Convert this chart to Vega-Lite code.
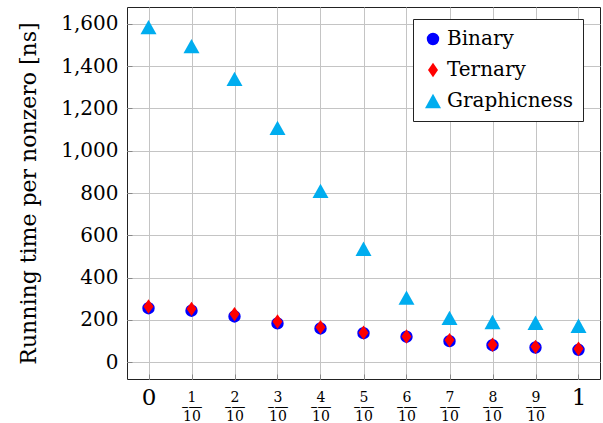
{
  "$schema": "https://vega.github.io/schema/vega-lite/v6.json",
  "width": 473,
  "height": 372,
  "autosize": {"type": "none"},
  "padding": {"left": 127, "top": 7, "right": 3, "bottom": 44},
  "background": "white",
  "config": {
    "font": "DejaVu Serif",
    "view": {"stroke": "#222", "strokeWidth": 1},
    "axis": {"domain": false, "gridColor": "#c4c4c4", "gridWidth": 1, "labelColor": "black", "titleColor": "black", "tickColor": "#888", "labelFont": "DejaVu Serif", "titleFont": "DejaVu Serif", "titleFontWeight": "normal"},
    "legend": {"labelFont": "DejaVu Serif", "labelFontSize": 20, "labelColor": "black"}
  },
  "data": {
    "values": [
      {"x": 0, "y": 255, "series": "Binary"},
      {"x": 0.1, "y": 243, "series": "Binary"},
      {"x": 0.2, "y": 216, "series": "Binary"},
      {"x": 0.3, "y": 183, "series": "Binary"},
      {"x": 0.4, "y": 159, "series": "Binary"},
      {"x": 0.5, "y": 137, "series": "Binary"},
      {"x": 0.6, "y": 120, "series": "Binary"},
      {"x": 0.7, "y": 99, "series": "Binary"},
      {"x": 0.8, "y": 80, "series": "Binary"},
      {"x": 0.9, "y": 69, "series": "Binary"},
      {"x": 1, "y": 58, "series": "Binary"},
      {"x": 0, "y": 263, "series": "Ternary"},
      {"x": 0.1, "y": 252, "series": "Ternary"},
      {"x": 0.2, "y": 227, "series": "Ternary"},
      {"x": 0.3, "y": 192, "series": "Ternary"},
      {"x": 0.4, "y": 165, "series": "Ternary"},
      {"x": 0.5, "y": 139, "series": "Ternary"},
      {"x": 0.6, "y": 121, "series": "Ternary"},
      {"x": 0.7, "y": 104, "series": "Ternary"},
      {"x": 0.8, "y": 82, "series": "Ternary"},
      {"x": 0.9, "y": 72, "series": "Ternary"},
      {"x": 1, "y": 63, "series": "Ternary"},
      {"x": 0, "y": 1585, "series": "Graphicness"},
      {"x": 0.1, "y": 1495, "series": "Graphicness"},
      {"x": 0.2, "y": 1340, "series": "Graphicness"},
      {"x": 0.3, "y": 1108, "series": "Graphicness"},
      {"x": 0.4, "y": 810, "series": "Graphicness"},
      {"x": 0.5, "y": 536, "series": "Graphicness"},
      {"x": 0.6, "y": 305, "series": "Graphicness"},
      {"x": 0.7, "y": 209, "series": "Graphicness"},
      {"x": 0.8, "y": 190, "series": "Graphicness"},
      {"x": 0.9, "y": 186, "series": "Graphicness"},
      {"x": 1, "y": 172, "series": "Graphicness"}
    ]
  },
  "mark": {"type": "point", "filled": true, "opacity": 1},
  "encoding": {
    "x": {
      "field": "x", "type": "quantitative",
      "scale": {"domain": [-0.05, 1.05], "nice": false, "zero": false},
      "axis": {
        "title": null,
        "values": [0, 0.1, 0.2, 0.3, 0.4, 0.5, 0.6, 0.7, 0.8, 0.9, 1],
        "grid": true,
        "tickSize": -5,
        "labelPadding": {"condition": {"test": "datum.value == 0 || datum.value == 1", "value": 12}, "value": 16},
        "labelExpr": "datum.value == 0 ? '0' : datum.value == 1 ? '1' : [toString(round(datum.value*10)), '–—', '10']",
        "labelFontSize": {"condition": {"test": "datum.value == 0 || datum.value == 1", "value": 23}, "value": 14},
        "labelLineHeight": 9.5,
        "labelFlush": false,
        "labelOverlap": false
      }
    },
    "y": {
      "field": "y", "type": "quantitative",
      "scale": {"domain": [-80, 1680], "nice": false, "zero": false},
      "axis": {
        "title": "Running time per nonzero [ns]",
        "titleFontSize": 22,
        "titlePadding": 20,
        "values": [0, 200, 400, 600, 800, 1000, 1200, 1400, 1600],
        "format": ",d",
        "grid": true,
        "tickSize": -5,
        "labelPadding": 14,
        "labelFontSize": 20,
        "labelFlush": false,
        "labelOverlap": false
      }
    },
    "color": {
      "field": "series", "type": "nominal",
      "scale": {"domain": ["Binary", "Ternary", "Graphicness"], "range": ["#0000ff", "#ff0000", "#00adef"]},
      "legend": {
        "title": null,
        "orient": "none",
        "legendX": 286,
        "legendY": 12,
        "fillColor": "white",
        "strokeColor": "#222",
        "padding": 10,
        "cornerRadius": 0,
        "rowPadding": 11,
        "symbolSize": 220,
        "symbolStrokeWidth": 0,
        "labelOffset": 4
      }
    },
    "shape": {
      "field": "series", "type": "nominal",
      "scale": {"domain": ["Binary", "Ternary", "Graphicness"], "range": ["circle", "M0,-1L0.7,0L0,1L-0.7,0Z", "M0,-0.9L1,0.9L-1,0.9Z"]}
    },
    "size": {
      "field": "series", "type": "nominal",
      "scale": {"domain": ["Binary", "Ternary", "Graphicness"], "range": [154, 256, 196]},
      "legend": null
    }
  }
}
